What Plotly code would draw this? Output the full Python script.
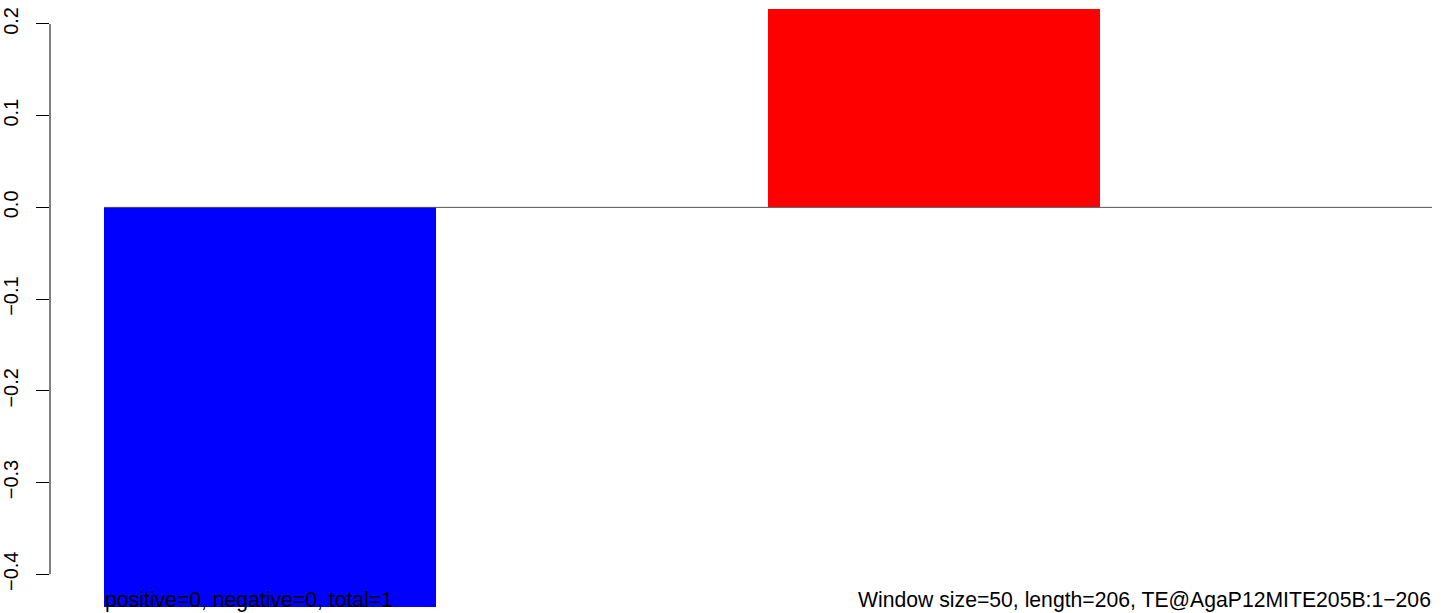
import plotly.graph_objects as go

windows = [0, 1, 2, 3]
values = [-0.436, 0.0, 0.216, 0.0]
bar_colors = ["#0000FF", "#FFFFFF", "#FF0000", "#FFFFFF"]
tick_vals = [-0.4, -0.3, -0.2, -0.1, 0.0, 0.1, 0.2]
tick_text = ["\u22120.4", "\u22120.3", "\u22120.2", "\u22120.1", "0.0", "0.1", "0.2"]
left_label = "positive=0, negative=0, total=1"
right_label = "Window size=50, length=206, TE@AgaP12MITE205B:1\u2212206"

fig = go.Figure()
fig.add_trace(go.Bar(x=windows, y=values, width=1.0,
                     marker=dict(color=bar_colors, line=dict(width=0)),
                     hoverinfo="y"))

fig.add_shape(type="line", xref="x", yref="y", x0=-0.5, x1=3.5, y0=0, y1=0,
              line=dict(color="#555555", width=1), layer="above")
fig.add_shape(type="line", xref="paper", yref="y", x0=0, x1=0, y0=-0.4, y1=0.2,
              line=dict(color="black", width=1))

font = dict(family="Liberation Sans, Arial, sans-serif", size=20, color="black")
text_font = dict(family="Liberation Sans, Arial, sans-serif", size=21.2, color="black")
fig.add_annotation(text=left_label, xref="x", yref="paper", x=-0.5, y=0,
                   xanchor="left", yanchor="bottom", showarrow=False, font=text_font,
                   borderpad=0)
fig.add_annotation(text=right_label, xref="x", yref="paper", x=3.5, y=0,
                   xanchor="right", yanchor="bottom", showarrow=False, font=text_font,
                   borderpad=0)

fig.update_layout(
    width=1444, height=613,
    margin=dict(l=50, r=12, t=0, b=0),
    paper_bgcolor="white", plot_bgcolor="white",
    showlegend=False, bargap=0,
    font=font,
    xaxis=dict(range=[-0.6627, 3.5], visible=False),
    yaxis=dict(range=[-0.4422, 0.2261], tickmode="array", tickvals=tick_vals,
               ticktext=tick_text, tickangle=-90, ticks="outside", ticklen=13,
               tickwidth=1, tickcolor="black", showgrid=False, zeroline=False,
               showline=False, tickfont=font, ticklabelstandoff=10),
)

fig.write_html("out.html", config={"displayModeBar": False})

with open("out.html", "r", encoding="utf-8") as f:
    html = f.read()
html = html.replace("<body>", "<body style=\"margin:0;padding:0;overflow:hidden\">", 1)
with open("out.html", "w", encoding="utf-8") as f:
    f.write(html)
